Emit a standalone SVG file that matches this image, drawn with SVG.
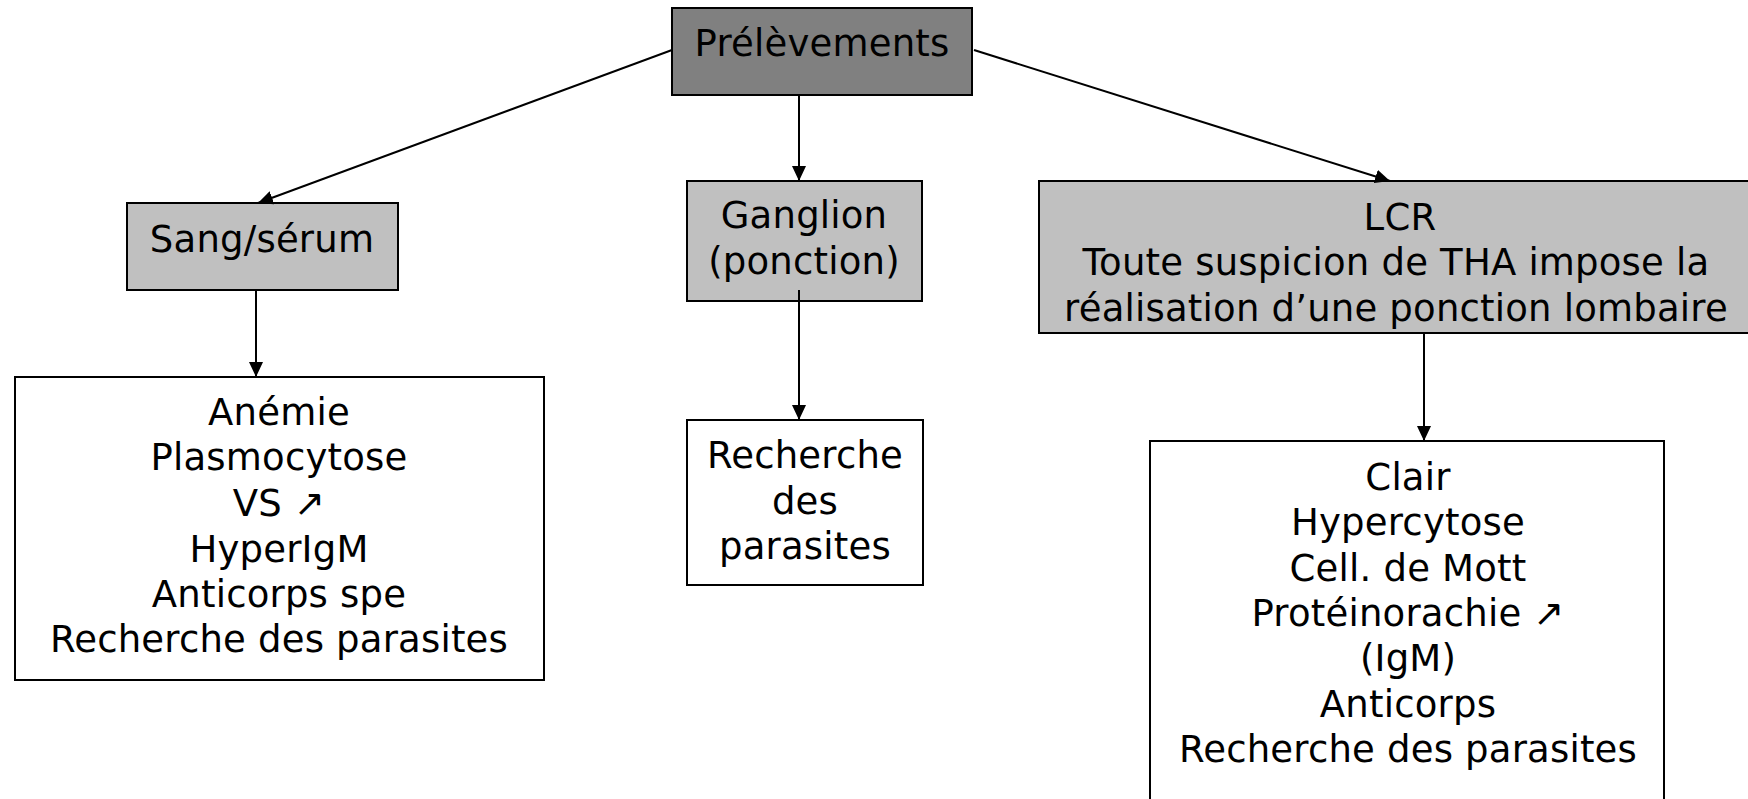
<svg xmlns="http://www.w3.org/2000/svg" width="1748" height="799" viewBox="0 0 1748 799">
<style>
.box{stroke:#000;stroke-width:2}
.dark{fill:#808080}
.grey{fill:#c0c0c0}
.white{fill:#fff}
text{font-family:"DejaVu Sans","Liberation Sans",sans-serif;font-size:37px;letter-spacing:0.2px;fill:#000;text-anchor:middle}
.conn{stroke:#000;stroke-width:2;fill:none;marker-end:url(#arr)}
</style>
<defs>
<marker id="arr" markerUnits="userSpaceOnUse" markerWidth="16" markerHeight="14" refX="15" refY="7" orient="auto">
<path d="M0,0 L15,7 L0,14 z" fill="#000"/>
</marker>
</defs>
<rect width="1748" height="799" fill="#fff"/>
<g id="prelevements">
<rect class="box dark" x="672" y="8" width="300" height="87"/>
<text x="822" y="56">Prélèvements</text>
</g>
<g id="sang">
<rect class="box grey" x="127" y="203" width="271" height="87"/>
<text x="262" y="252">Sang/sérum</text>
</g>
<g id="ganglion">
<rect class="box grey" x="687" y="181" width="235" height="120"/>
<text x="804" y="228">Ganglion</text>
<text x="804" y="274">(ponction)</text>
</g>
<g id="lcr">
<rect class="box grey" x="1039" y="181" width="716" height="152"/>
<text x="1400" y="230">LCR</text>
<text x="1396" y="275">Toute suspicion de THA impose la</text>
<text x="1396" y="321">réalisation d’une ponction lombaire</text>
</g>
<g id="sang-resultats">
<rect class="box white" x="15" y="377" width="529" height="303"/>
<text x="279" y="425">Anémie</text>
<text x="279" y="470">Plasmocytose</text>
<text x="279" y="516">VS ↗</text>
<text x="279" y="562">HyperIgM</text>
<text x="279" y="607">Anticorps spe</text>
<text x="279" y="652">Recherche des parasites</text>
</g>
<g id="ganglion-resultats">
<rect class="box white" x="687" y="420" width="236" height="165"/>
<text x="805" y="468">Recherche</text>
<text x="805" y="514">des</text>
<text x="805" y="559">parasites</text>
</g>
<g id="lcr-resultats">
<rect class="box white" x="1150" y="441" width="514" height="380"/>
<text x="1408" y="490">Clair</text>
<text x="1408" y="535">Hypercytose</text>
<text x="1408" y="581">Cell. de Mott</text>
<text x="1408" y="626">Protéinorachie ↗</text>
<text x="1408" y="671">(IgM)</text>
<text x="1408" y="717">Anticorps</text>
<text x="1408" y="762">Recherche des parasites</text>
</g>
<g id="connectors">
<line class="conn" x1="672" y1="50" x2="258" y2="203"/>
<line class="conn" x1="799" y1="95" x2="799" y2="181"/>
<line class="conn" x1="974" y1="50" x2="1390" y2="181"/>
<line class="conn" x1="256" y1="290" x2="256" y2="377"/>
<line class="conn" x1="799" y1="290" x2="799" y2="420"/>
<line class="conn" x1="1424" y1="333" x2="1424" y2="441"/>
</g>
</svg>
